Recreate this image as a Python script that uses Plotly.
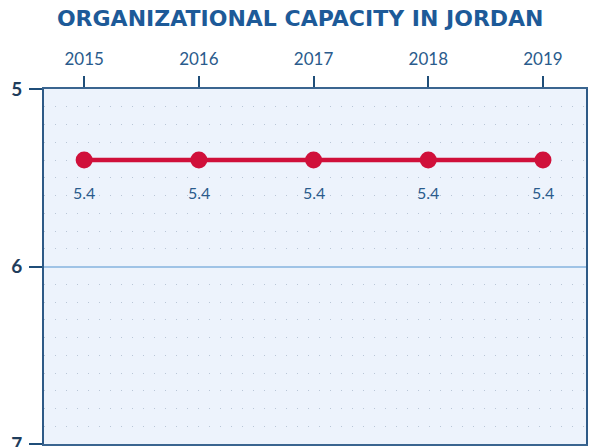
import plotly.graph_objects as go

years = [2015, 2016, 2017, 2018, 2019]
scores = [5.4, 5.4, 5.4, 5.4, 5.4]
labels = ["5.4", "5.4", "5.4", "5.4", "5.4"]
y_ticks = [5, 6, 7]

blue_text = "#2a5b8c"
dark_blue = "#1f4e79"

fig = go.Figure()
fig.add_trace(go.Scatter(
    x=years, y=scores, mode="lines+markers",
    line=dict(color="#d0103a", width=4.5),
    marker=dict(color="#d0103a", size=17),
    cliponaxis=False, showlegend=False, hoverinfo="skip",
))
for yr, v, lab in zip(years, scores, labels):
    fig.add_annotation(x=yr, y=v, text=lab, showarrow=False, yshift=-32,
                       font=dict(family="Lato", size=16, color=blue_text))

fig.update_layout(
    width=591, height=447,
    margin=dict(l=44, r=5, t=89, b=3),
    paper_bgcolor="white",
    plot_bgcolor="#edf3fc",
    title=dict(text="<b>ORGANIZATIONAL CAPACITY IN JORDAN</b>",
               x=0.508, xanchor="center", y=0.96, yanchor="middle",
               font=dict(family="DejaVu Sans", size=22, color="#1d5a98")),
    xaxis=dict(
        side="top", range=[2014.65, 2019.375], tickvals=years,
        ticktext=[str(y) for y in years], automargin=False,
        ticks="outside", ticklen=11, tickwidth=2, tickcolor=dark_blue,
        ticklabelstandoff=4,
        tickfont=dict(family="Lato", size=17, color=blue_text),
        showgrid=False, zeroline=False,
        showline=True, linecolor="#3a6590", linewidth=2, mirror=True,
    ),
    yaxis=dict(
        range=[7, 5], tickvals=y_ticks, ticktext=[str(v) for v in y_ticks],
        automargin=False, ticklabeloverflow="allow",
        ticks="outside", ticklen=13, tickwidth=2, tickcolor=dark_blue,
        ticklabelstandoff=3,
        tickfont=dict(family="Lato", size=19, color="#1f3d5c", weight="bold"),
        showgrid=True, gridcolor="#9fc3e6", gridwidth=2,
        minor=dict(dtick=0.1, showgrid=True, gridcolor="#b9c6d6",
                   griddash="1px,10px", gridwidth=1),
        zeroline=False,
        showline=True, linecolor="#2e5a87", linewidth=2, mirror=True,
    ),
)

fig.write_html("out.html", config={"displayModeBar": False},
               post_script="document.body.style.margin='0px';")
